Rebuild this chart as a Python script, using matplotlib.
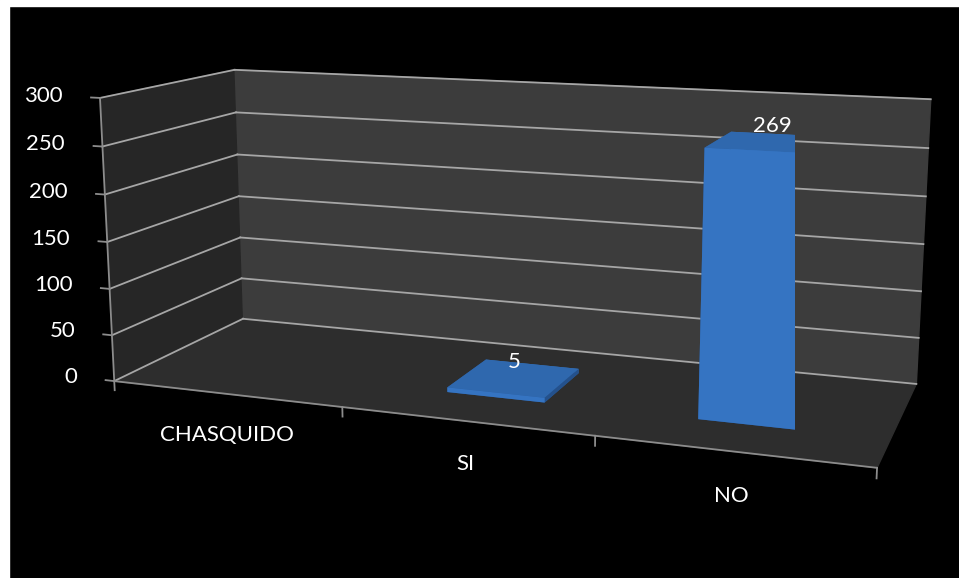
import numpy as np
import matplotlib.pyplot as plt
from matplotlib.patches import Rectangle

categorias = ["CHASQUIDO", "SI", "NO"]
valores = [None, 5, 269]
z_ticks = [0, 50, 100, 150, 200, 250, 300]

plt.rcParams['font.family'] = ['Lato', 'DejaVu Sans']

fig = plt.figure(figsize=(9.59, 5.78), dpi=100, facecolor='black')
# franjas blancas arriba e izquierda
fig.add_artist(Rectangle((0, 0), 9 / 959, 1, transform=fig.transFigure,
                         color='white', zorder=-5))
fig.add_artist(Rectangle((0, 1 - 6 / 578), 1, 6 / 578,
                         transform=fig.transFigure, color='white', zorder=-5))

ax = fig.add_axes([0.028, 0.066, 1.0, 1.0], projection='3d')
ax.patch.set_visible(False)
ax.computed_zorder = False

n = len(categorias)
ax.set_xlim(0, n)
ax.set_ylim(0, 1)
ax.set_zlim(0, 300)
ax.set_proj_type('persp', focal_length=0.55)
ax.view_init(elev=12, azim=-70)
ax.set_box_aspect((3, 1.05, 1.13), zoom=1.455)

# paredes y piso
ax.xaxis.set_pane_color('#262626')
ax.yaxis.set_pane_color('#3c3c3c')
ax.zaxis.set_pane_color('#2d2d2d')
for eje in (ax.xaxis, ax.yaxis, ax.zaxis):
    eje.pane.set_edgecolor(eje.pane.get_facecolor())
    eje.line.set_color((0, 0, 0, 0))
ax.set_xticks([])
ax.set_yticks([])
ax.set_zticks([])
ax.grid(False)

gris = '#8c8c8c'
linea_grid = '#a6a6a6'
# lineas de division en pared izquierda y pared de fondo
for z in z_ticks:
    ax.plot([0, 0], [0, 1], [z, z], color=linea_grid, lw=1.3, zorder=1,
            clip_on=False)
    ax.plot([0, n], [1, 1], [z, z], color=linea_grid, lw=1.3, zorder=1,
            clip_on=False)

# eje de categorias y eje de valores
ax.plot([0, n], [0, 0], [0, 0], color=gris, lw=1.3, zorder=2, clip_on=False)
ax.plot([0, 0], [0, 0], [0, 300], color=gris, lw=1.3, zorder=2, clip_on=False)
for k in range(n + 1):
    ax.plot([k, k], [0, 0], [0, -10], color=gris, lw=1.3, zorder=2,
            clip_on=False)
for z in z_ticks:
    ax.plot([0, -0.04], [0, 0], [z, z], color=gris, lw=1.3, zorder=2,
            clip_on=False)
    ax.text(-0.17, 0, z, str(z), ha='right', va='center', color='white',
            fontsize=16, zorder=5, clip_on=False)

# barras
ancho = 0.4
caras = ['#2a5a9a', '#2f68ae', '#3574c2', '#3574c2', '#2a5a9a', '#24518c']
for i, (cat, v) in enumerate(zip(categorias, valores)):
    ax.text(i + 0.5, 0, -34, cat, ha='center', va='top', color='white',
            fontsize=16, zorder=5, clip_on=False)
    if v is None:
        continue
    ax.bar3d(i + 0.5 - ancho / 2, 0.3, 0, ancho, 0.4, v, color=caras,
             shade=False, zorder=3)
    ax.text(i + 0.5, 0.5, v + 6, str(v), ha='center', va='bottom',
            color='white', fontsize=16, zorder=5, clip_on=False)

fig.savefig('out.png', dpi=100, facecolor=fig.get_facecolor())
